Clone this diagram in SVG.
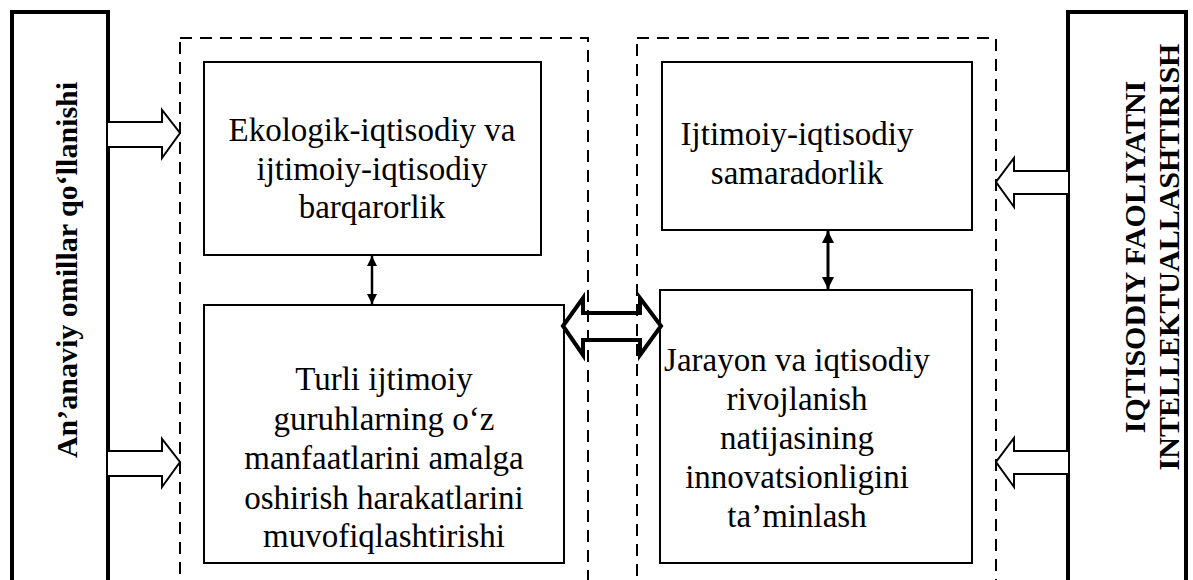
<svg xmlns="http://www.w3.org/2000/svg" width="1193" height="580" viewBox="0 0 1193 580">
<style>
.thick{fill:none;stroke:#000;stroke-width:4}
.box{fill:none;stroke:#000;stroke-width:2}
.dash{fill:none;stroke:#000;stroke-width:2;stroke-dasharray:12 8}
text{font-family:'Liberation Serif','Times New Roman',serif;fill:#000;text-anchor:middle}
.t{font-size:33px}
.b{font-size:30px;font-weight:bold}
.hollow{fill:#fff;stroke:#000;stroke-width:2;stroke-linejoin:miter}
</style>
<defs>
<marker id="ah" viewBox="0 0 10 10" refX="10" refY="5" markerWidth="4" markerHeight="5" markerUnits="strokeWidth" orient="auto-start-reverse"><path d="M0,0 L10,5 L0,10 z" fill="#000"/></marker>
</defs>
<g id="left-factor">
<rect class="thick" x="12" y="12" width="96" height="600"/>
<text class="b" transform="translate(77,270) rotate(-90)">An’anaviy omillar qo‘llanishi</text>
</g>
<g id="right-factor">
<rect class="thick" x="1068" y="12" width="118" height="600"/>
<text class="b" transform="translate(1145,257) rotate(-90)">IQTISODIY FAOLIYATNI</text>
<text class="b" transform="translate(1179,257) rotate(-90)">INTELLEKTUALLASHTIRISH</text>
</g>
<g id="left-group">
<rect class="dash" x="180" y="38" width="408" height="580"/>
</g>
<g id="right-group">
<rect class="dash" x="637" y="38" width="359" height="580"/>
</g>
<g id="box1">
<rect class="box" x="204" y="62" width="337" height="193"/>
<text class="t" x="372" y="141">Ekologik-iqtisodiy va</text>
<text class="t" x="372" y="180">ijtimoiy-iqtisodiy</text>
<text class="t" x="372" y="218">barqarorlik</text>
</g>
<g id="box2">
<rect class="box" x="204" y="305" width="360" height="258"/>
<text class="t" x="384" y="390">Turli ijtimoiy</text>
<text class="t" x="384" y="430">guruhlarning o‘z</text>
<text class="t" x="384" y="469">manfaatlarini amalga</text>
<text class="t" x="384" y="509">oshirish harakatlarini</text>
<text class="t" x="384" y="547">muvofiqlashtirishi</text>
</g>
<g id="box3">
<rect class="box" x="662" y="62" width="310" height="168"/>
<text class="t" x="797" y="145">Ijtimoiy-iqtisodiy</text>
<text class="t" x="797" y="184">samaradorlik</text>
</g>
<g id="box4">
<rect class="box" x="660" y="290" width="312" height="273"/>
<text class="t" x="797" y="371">Jarayon va iqtisodiy</text>
<text class="t" x="797" y="410">rivojlanish</text>
<text class="t" x="797" y="449">natijasining</text>
<text class="t" x="797" y="488">innovatsionligini</text>
<text class="t" x="797" y="527">ta’minlash</text>
</g>
<g id="connectors">
<path class="hollow" d="M108,122 L162,122 L162,110 L180,133 L162,158 L162,147 L108,147"/>
<path class="hollow" d="M108,451 L162,451 L162,439 L180,462 L162,487 L162,476 L108,476"/>
<path class="hollow" d="M1068,171 L1014,171 L1014,158 L996,182 L1014,207 L1014,194 L1068,194"/>
<path class="hollow" d="M1068,451 L1014,451 L1014,438 L996,462 L1014,487 L1014,474 L1068,474"/>
<path d="M563,326 L583,298 L583,313 L640,313 L640,298 L661,326 L640,355 L640,340 L583,340 L583,355 Z" fill="none" stroke="#000" stroke-width="4" stroke-linejoin="miter"/>
<line x1="372" y1="256" x2="372" y2="304" stroke="#000" stroke-width="2.5" marker-start="url(#ah)" marker-end="url(#ah)"/>
<line x1="828" y1="231" x2="828" y2="289" stroke="#000" stroke-width="3" marker-start="url(#ah)" marker-end="url(#ah)"/>
</g>
</svg>
